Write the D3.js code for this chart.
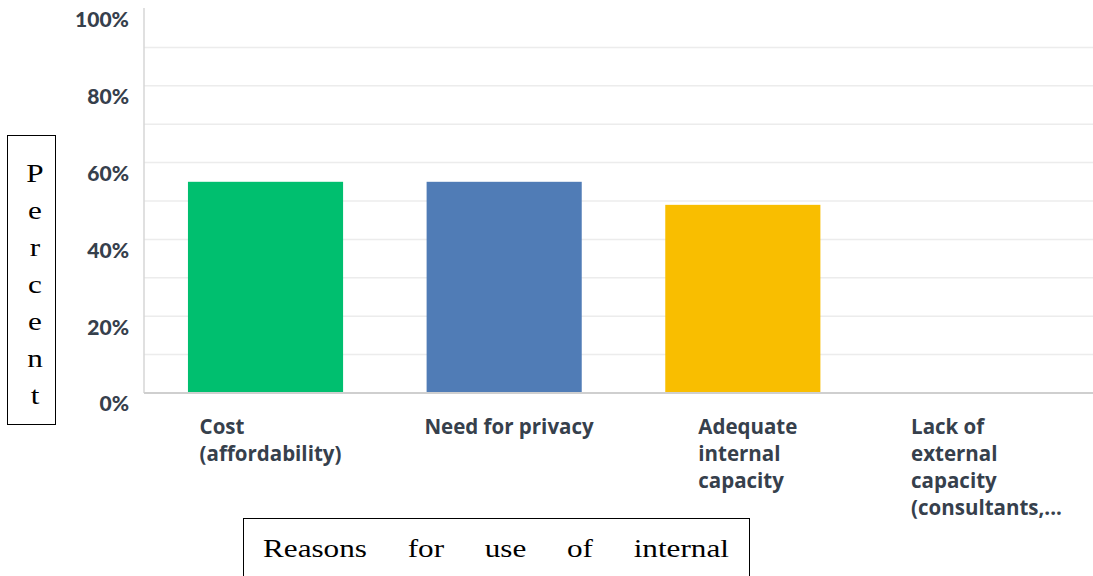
<!DOCTYPE html>
<html>
<head>
<meta charset="utf-8">
<script src="https://cdn.jsdelivr.net/npm/d3@7/dist/d3.min.js"></script>
<style>
  html, body { margin: 0; padding: 0; background: #fff; }
  svg { display: block; }
</style>
</head>
<body>
<svg id="chart" width="1093" height="576"></svg>
<script>
// Reasons and their share of respondents (%)
const categories = [
  ["Cost", "(affordability)"],
  ["Need for privacy"],
  ["Adequate", "internal", "capacity"],
  ["Lack of", "external", "capacity", "(consultants,..."]
];
const values = [55, 55, 49, 0];
const colors = ["#00bf6f", "#507cb6", "#f9be00", "#a0a0a0"];
const yTicks = [0, 20, 40, 60, 80, 100];
const gridTicks = [10, 20, 30, 40, 50, 60, 70, 80, 90];
const yTitle = "Percent";
const xTitleWords = ["Reasons", "for", "use", "of", "internal"];

const svg = d3.select("#chart");
const m = { left: 144, right: 1102, top: 9, bottom: 393 };

const x = d3.scaleBand().domain(d3.range(categories.length))
  .range([m.left + 1, m.right]).paddingInner(0.35).paddingOuter(0.18);
const y = d3.scaleLinear().domain([0, 100]).range([m.bottom, m.top]);

// horizontal gridlines
svg.append("g").selectAll("line").data(gridTicks).join("line")
  .attr("x1", m.left).attr("x2", 1093)
  .attr("y1", d => y(d)).attr("y2", d => y(d))
  .attr("stroke", "#ececec").attr("stroke-width", 1.5);

// bars
svg.append("g").selectAll("rect").data(values).join("rect")
  .attr("x", (d, i) => x(i)).attr("width", x.bandwidth())
  .attr("y", d => y(d)).attr("height", d => y(0) - y(d))
  .attr("fill", (d, i) => colors[i]);

// axes lines
svg.append("line").attr("x1", m.left).attr("x2", m.left)
  .attr("y1", m.top - 1).attr("y2", m.bottom)
  .attr("stroke", "#d6d6d6").attr("stroke-width", 1.5);
svg.append("line").attr("x1", m.left).attr("x2", 1093)
  .attr("y1", m.bottom).attr("y2", m.bottom)
  .attr("stroke", "#cfcfcf").attr("stroke-width", 2);

// y tick labels
const yAxis = d3.axisLeft(y).tickValues(yTicks).tickFormat(d => d + "%").tickSize(0).tickPadding(15);
const yg = svg.append("g").attr("transform", `translate(${m.left},0)`).call(yAxis);
yg.select(".domain").remove();
yg.selectAll("text")
  .attr("dy", "0.85em")
  .attr("font-family", "Lato, 'Open Sans', sans-serif")
  .attr("font-weight", 900).attr("font-size", 21)
  .attr("fill", "#36404c");

// category labels: left-aligned blocks centred under each band
const lab = svg.append("g");
categories.forEach((lines, i) => {
  const t = lab.append("text")
    .attr("font-family", "'Open Sans', sans-serif")
    .attr("font-weight", 700).attr("font-size", 20.5)
    .attr("fill", "#36404c");
  lines.forEach((s, j) => {
    t.append("tspan").attr("x", 0).attr("y", 434 + j * 27).text(s);
  });
  const w = t.node().getBBox().width;
  t.attr("transform", `translate(${x(i) + x.bandwidth() / 2 - w / 2 + 5},0)`);
});

// serif titles are drawn slightly widened
const serifStretch = 1.2;

// y title box with stacked letters
svg.append("rect").attr("x", 7.5).attr("y", 135.5).attr("width", 48).attr("height", 289)
  .attr("fill", "none").attr("stroke", "#000").attr("stroke-width", 1);
svg.append("g").selectAll("text").data(yTitle.split("")).join("text")
  .attr("transform", (d, i) => `translate(35,${182 + i * 37.0}) scale(${serifStretch},1)`)
  .attr("text-anchor", "middle")
  .attr("font-family", "'Liberation Serif', 'Times New Roman', serif")
  .attr("font-size", 26).attr("fill", "#000")
  .text(d => d);

// x title box with justified words
svg.append("rect").attr("x", 243.5).attr("y", 518.5).attr("width", 506).attr("height", 70)
  .attr("fill", "none").attr("stroke", "#000").attr("stroke-width", 1);
const words = svg.append("g").selectAll("text").data(xTitleWords).join("text")
  .attr("font-family", "'Liberation Serif', 'Times New Roman', serif")
  .attr("font-size", 26).attr("fill", "#000")
  .text(d => d);
const widths = words.nodes().map(n => n.getComputedTextLength() * serifStretch);
const left = 263, right = 729;
const gap = (right - left - d3.sum(widths)) / (widths.length - 1);
let cx = left;
const xs = widths.map(w => { const p = cx; cx += w + gap; return p; });
words.attr("transform", (d, i) => `translate(${xs[i]},557) scale(${serifStretch},1)`);
</script>
</body>
</html>
